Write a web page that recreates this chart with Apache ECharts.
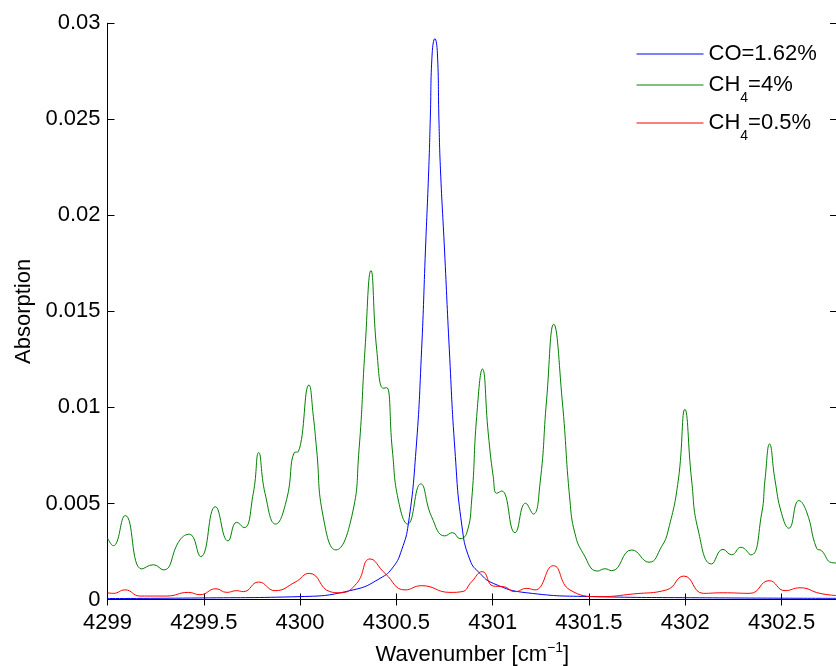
<!DOCTYPE html>
<html><head><meta charset="utf-8">
<script src="https://cdn.jsdelivr.net/npm/echarts@6.0.0/dist/echarts.min.js"></script>
<style>html,body{margin:0;padding:0;background:#fff}#c{width:836px;height:666px}</style>
</head><body><div id="c"></div>
<script>
// ---- data ----
const coX = [4299.000,4299.480,4300.000,4300.276,4300.415,4300.484,4300.528,4300.562,4300.602,4300.631,4300.651,4300.668,4300.676,4300.686,4300.700,4300.713,4300.721,4300.729,4300.750,4300.775,4300.804,4300.839,4300.882,4300.934,4301.003,4301.177,4301.522,4302.076,4302.788];
const coY = [0.00005,0.00008,0.00015,0.0005,0.0011,0.0017,0.0026,0.00393,0.00779,0.013,0.0182,0.02237,0.02497,0.02845,0.0292,0.02845,0.02497,0.02237,0.0182,0.013,0.00779,0.00393,0.00206,0.00136,0.00084,0.00035,0.00015,0.00009,0.00006];

const ch4HighX = [4299.000,4299.030,4299.092,4299.178,4299.238,4299.290,4299.376,4299.425,4299.484,4299.560,4299.626,4299.671,4299.709,4299.757,4299.785,4299.818,4299.873,4299.930,4299.970,4299.991,4300.046,4300.069,4300.086,4300.120,4300.186,4300.268,4300.306,4300.337,4300.368,4300.398,4300.432,4300.450,4300.479,4300.510,4300.559,4300.626,4300.683,4300.752,4300.792,4300.830,4300.865,4300.891,4300.917,4300.947,4300.977,4301.003,4301.021,4301.047,4301.116,4301.171,4301.211,4301.246,4301.280,4301.317,4301.361,4301.401,4301.427,4301.470,4301.545,4301.583,4301.618,4301.722,4301.812,4301.877,4301.912,4301.964,4301.998,4302.033,4302.067,4302.137,4302.196,4302.241,4302.289,4302.341,4302.397,4302.414,4302.438,4302.466,4302.500,4302.538,4302.590,4302.630,4302.682,4302.708,4302.760,4302.788];
const ch4HighY = [0.0032,0.0028,0.00437,0.00159,0.00181,0.00154,0.0031,0.0034,0.00223,0.00483,0.00305,0.00402,0.00374,0.00553,0.00765,0.00553,0.00393,0.0052,0.00765,0.0077,0.01117,0.00952,0.00779,0.00431,0.00258,0.00431,0.00779,0.013,0.01713,0.013,0.0110,0.01103,0.00779,0.00518,0.00393,0.00602,0.00431,0.00331,0.00348,0.00317,0.00345,0.00518,0.00952,0.0120,0.00866,0.0064,0.00553,0.00565,0.00348,0.00501,0.00445,0.00605,0.01039,0.01433,0.01039,0.00518,0.00345,0.0024,0.00148,0.0016,0.0015,0.00258,0.00194,0.00275,0.00362,0.00622,0.0099,0.00622,0.00362,0.00185,0.00261,0.00233,0.00272,0.00232,0.00449,0.00622,0.0081,0.00622,0.00449,0.00371,0.00515,0.00457,0.00267,0.00254,0.00192,0.0019];

const ch4LowX = [4299.000,4299.030,4299.091,4299.169,4299.307,4299.420,4299.480,4299.563,4299.619,4299.671,4299.705,4299.785,4299.870,4299.974,4300.048,4300.155,4300.207,4300.294,4300.363,4300.441,4300.545,4300.631,4300.778,4300.841,4300.891,4300.946,4301.003,4301.055,4301.116,4301.177,4301.220,4301.315,4301.401,4301.557,4301.730,4301.903,4301.993,4302.094,4302.197,4302.336,4302.435,4302.518,4302.596,4302.699,4302.788];
const ch4LowY = [0.00035,0.00032,0.0005,0.00018,0.00018,0.00037,0.00025,0.00056,0.00037,0.00046,0.00041,0.00091,0.00046,0.0009,0.00136,0.00041,0.00035,0.00084,0.00211,0.00136,0.0005,0.00072,0.00037,0.00041,0.00093,0.00145,0.0007,0.00067,0.00041,0.00058,0.0005,0.00176,0.0005,0.00015,0.00029,0.0005,0.00122,0.00032,0.00035,0.00032,0.00098,0.00046,0.00061,0.00032,0.0002];

const seriesNames = ['CO=1.62%', 'CH4=4%', 'CH4=0.5%'];
const legendLabels = {
  'CO=1.62%': '{m|CO=1.62%}',
  'CH4=4%': '{m|CH}{s|4}{m|=4%}',
  'CH4=0.5%': '{m|CH}{s|4}{m|=0.5%}'
};
const xName = 'Wavenumber [cm{sup|\u22121}]';
const yName = 'Absorption';

// ---- chart ----
const FONT = "'Liberation Sans', Arial, Helvetica, sans-serif";
const pairs = (xs, ys) => xs.map((x, i) => [x, ys[i]]);
const fmt = v => String(parseFloat(Number(v).toFixed(4)));
const XMIN = 4299, XMAX = 4302.788;

const axisCommon = {
  axisLine: { show: true, lineStyle: { color: '#000', width: 1 } },
  splitLine: { show: false },
  axisLabel: { color: '#000', fontSize: 22, fontFamily: FONT }
};

const chart = echarts.init(document.getElementById('c'), null, { renderer: 'canvas' });
chart.setOption({
  animation: false,
  backgroundColor: '#fff',
  grid: { left: 107.5, top: 23.3, right: -1, bottom: 66.5, containLabel: false, outerBoundsMode: 'none' },
  xAxis: [
    Object.assign({}, axisCommon, {
      type: 'value', min: XMIN, max: XMAX, interval: 0.5, position: 'bottom',
      axisTick: { show: true, inside: true, length: 6, lineStyle: { color: '#000' } },
      axisLabel: Object.assign({}, axisCommon.axisLabel, { margin: 12.5, formatter: fmt, showMaxLabel: false }),
      name: xName, nameLocation: 'middle', nameGap: 41.5,
      nameTextStyle: { color: '#000', fontSize: 22, fontFamily: FONT,
        rich: { sup: { fontSize: 14, fontFamily: FONT, color: '#000', padding: [0, 0, 14, 0] } } }
    }),
    Object.assign({}, axisCommon, {
      type: 'value', min: XMIN, max: XMAX, interval: 0.5, position: 'top',
      axisTick: { show: true, inside: true, length: 6, lineStyle: { color: '#000' } },
      axisLabel: { show: false }
    })
  ],
  yAxis: [
    Object.assign({}, axisCommon, {
      type: 'value', min: 0, max: 0.03, interval: 0.005, position: 'left',
      axisTick: { show: true, inside: true, length: 7, lineStyle: { color: '#000' } },
      axisLabel: Object.assign({}, axisCommon.axisLabel, { margin: 7, formatter: fmt }),
      name: yName, nameLocation: 'middle', nameGap: 73, nameRotate: 90,
      nameTextStyle: { color: '#000', fontSize: 22, fontFamily: FONT }
    }),
    Object.assign({}, axisCommon, {
      type: 'value', min: 0, max: 0.03, interval: 0.005, position: 'right',
      axisTick: { show: true, inside: true, length: 7, lineStyle: { color: '#000' } },
      axisLabel: { show: false }
    })
  ],
  legend: [0, 1, 2].map((i) => ({
    data: [seriesNames[i]],
    left: 636,
    top: [43, 74, 112][i],
    padding: 0,
    itemWidth: 67,
    itemHeight: 14,
    itemGap: 0,
    selectedMode: false,
    formatter: n => legendLabels[n],
    itemStyle: { opacity: 0 },
    lineStyle: { width: 1 },
    textStyle: {
      color: '#000', fontFamily: FONT, fontSize: 22,
      rich: {
        m: { fontSize: 22, fontFamily: FONT, color: '#000' },
        s: { fontSize: 14, fontFamily: FONT, color: '#000', padding: [26, 0, 0, 0] }
      }
    }
  })),
  series: [
    { name: seriesNames[0], type: 'line', data: pairs(coX, coY), color: '#0000ff' },
    { name: seriesNames[1], type: 'line', data: pairs(ch4HighX, ch4HighY), color: '#008000' },
    { name: seriesNames[2], type: 'line', data: pairs(ch4LowX, ch4LowY), color: '#ff0000' }
  ].map(s => Object.assign(s, {
    xAxisIndex: 0, yAxisIndex: 0, symbol: 'none', showSymbol: false,
    smooth: 0.5, clip: true,
    lineStyle: { width: 1, color: s.color }
  }))
});
</script>
</body></html>
